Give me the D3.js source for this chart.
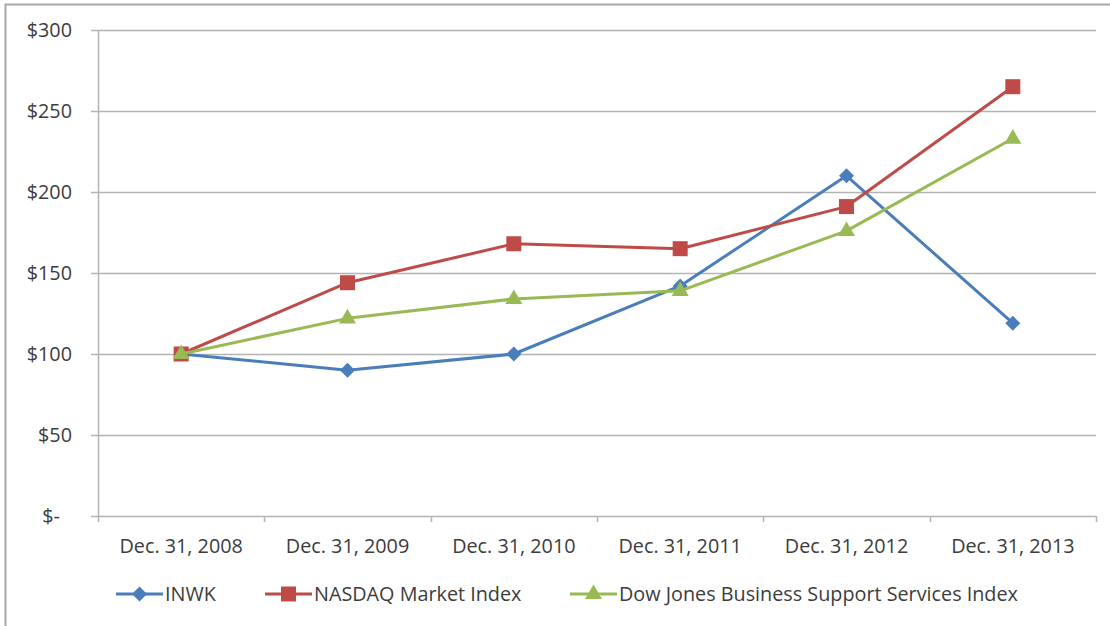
<!DOCTYPE html>
<html>
<head>
<meta charset="utf-8">
<script src="https://cdnjs.cloudflare.com/ajax/libs/d3/7.8.5/d3.min.js"></script>
<style>
    body { margin: 0; background: #fff; }
    svg text { font-family: "Open Sans", Lato, sans-serif; fill: #3c3c3c; }
</style>
</head>
<body>
<div id="chart"></div>
<script>
const years = ["Dec. 31, 2008", "Dec. 31, 2009", "Dec. 31, 2010", "Dec. 31, 2011", "Dec. 31, 2012", "Dec. 31, 2013"];
const inwk = [100, 90, 100, 142, 210, 119];
const nasdaq = [100, 144, 168, 165, 191, 265];
const dowJones = [100, 122, 134, 139, 176, 233];
const yTicks = [0, 50, 100, 150, 200, 250, 300];

const series = [
    {name: "INWK", values: inwk, color: "#4a7ebb", marker: "diamond"},
    {name: "NASDAQ Market Index", values: nasdaq, color: "#be4b48", marker: "square"},
    {name: "Dow Jones Business Support Services Index", values: dowJones, color: "#98b954", marker: "triangle"}
];

const width = 1110;
const height = 626;
const margin = {top: 30, right: 14, bottom: 110, left: 98};
const fontSize = "19.8px";

const svg = d3.select("#chart").append("svg")
    .attr("width", width)
    .attr("height", height);

// frame (only top and left edges show in the original)
svg.append("path")
    .attr("d", "M5.5," + height + "V4.5H" + width)
    .attr("fill", "none")
    .attr("stroke", "#a6a6a6")
    .attr("stroke-width", 2);

const x = d3.scaleBand()
    .domain(years)
    .range([margin.left, width - margin.right]);

const y = d3.scaleLinear()
    .domain([0, 300])
    .range([height - margin.bottom, margin.top]);

const cx = d => x(d) + x.bandwidth() / 2;

// gridlines + y ticks
svg.append("g")
    .selectAll("line")
    .data(yTicks)
    .enter()
    .append("line")
    .attr("x1", margin.left - 7)
    .attr("x2", width - margin.right)
    .attr("y1", d => Math.round(y(d)) + 0.5)
    .attr("y2", d => Math.round(y(d)) + 0.5)
    .attr("stroke", "#b3b3b3")
    .attr("stroke-width", 1.5);

svg.append("g")
    .selectAll("text")
    .data(yTicks)
    .enter()
    .append("text")
    .attr("x", d => d === 0 ? 60 : 72)
    .attr("y", d => y(d))
    .attr("dy", "0.35em")
    .attr("text-anchor", "end")
    .style("font-size", fontSize)
    .text(d => d === 0 ? "$-" : "$" + d);

// y axis line
svg.append("line")
    .attr("x1", margin.left + 0.5)
    .attr("x2", margin.left + 0.5)
    .attr("y1", margin.top)
    .attr("y2", y(0) + 6)
    .attr("stroke", "#b3b3b3")
    .attr("stroke-width", 1.5);

// x axis ticks at band edges
const edges = years.map(d => x(d)).concat([width - margin.right]);
svg.append("g")
    .selectAll("line")
    .data(edges.slice(1))
    .enter()
    .append("line")
    .attr("x1", d => Math.round(d) + 0.5)
    .attr("x2", d => Math.round(d) + 0.5)
    .attr("y1", y(0))
    .attr("y2", y(0) + 6)
    .attr("stroke", "#b3b3b3")
    .attr("stroke-width", 1.5);

svg.append("g")
    .selectAll("text")
    .data(years)
    .enter()
    .append("text")
    .attr("x", cx)
    .attr("y", y(0) + 37)
    .attr("text-anchor", "middle")
    .style("font-size", fontSize)
    .text(d => d);

function markerPath(type, px, py) {
    if (type === "diamond") {
        const r = 7.5;
        return `M${px},${py - r}L${px + r},${py}L${px},${py + r}L${px - r},${py}Z`;
    }
    if (type === "square") {
        const r = 7.5;
        return `M${px - r},${py - r}h${2 * r}v${2 * r}h${-2 * r}Z`;
    }
    const r = 8.5;
    return `M${px},${py - r - 1}L${px + r},${py + r * 0.6}L${px - r},${py + r * 0.6}Z`;
}

const line = d3.line()
    .x((d, i) => cx(years[i]))
    .y(d => y(d));

series.forEach(s => {
    const g = svg.append("g");
    g.append("path")
        .attr("d", line(s.values))
        .attr("fill", "none")
        .attr("stroke", s.color)
        .attr("stroke-width", 3)
        .attr("stroke-linejoin", "round");
    g.selectAll("path.mk")
        .data(s.values)
        .enter()
        .append("path")
        .attr("class", "mk")
        .attr("d", (d, i) => markerPath(s.marker, cx(years[i]), y(d)))
        .attr("fill", s.color);
});

// legend
const legendX = [116, 265, 570];
const legendY = 594;
series.forEach((s, i) => {
    const g = svg.append("g");
    g.append("line")
        .attr("x1", legendX[i])
        .attr("x2", legendX[i] + 47)
        .attr("y1", legendY)
        .attr("y2", legendY)
        .attr("stroke", s.color)
        .attr("stroke-width", 3);
    g.append("path")
        .attr("d", markerPath(s.marker, legendX[i] + 23.5, legendY))
        .attr("fill", s.color);
    g.append("text")
        .attr("x", legendX[i] + 49)
        .attr("y", legendY)
        .attr("dy", "0.35em")
        .style("font-size", fontSize)
        .text(s.name);
});
</script>
</body>
</html>
